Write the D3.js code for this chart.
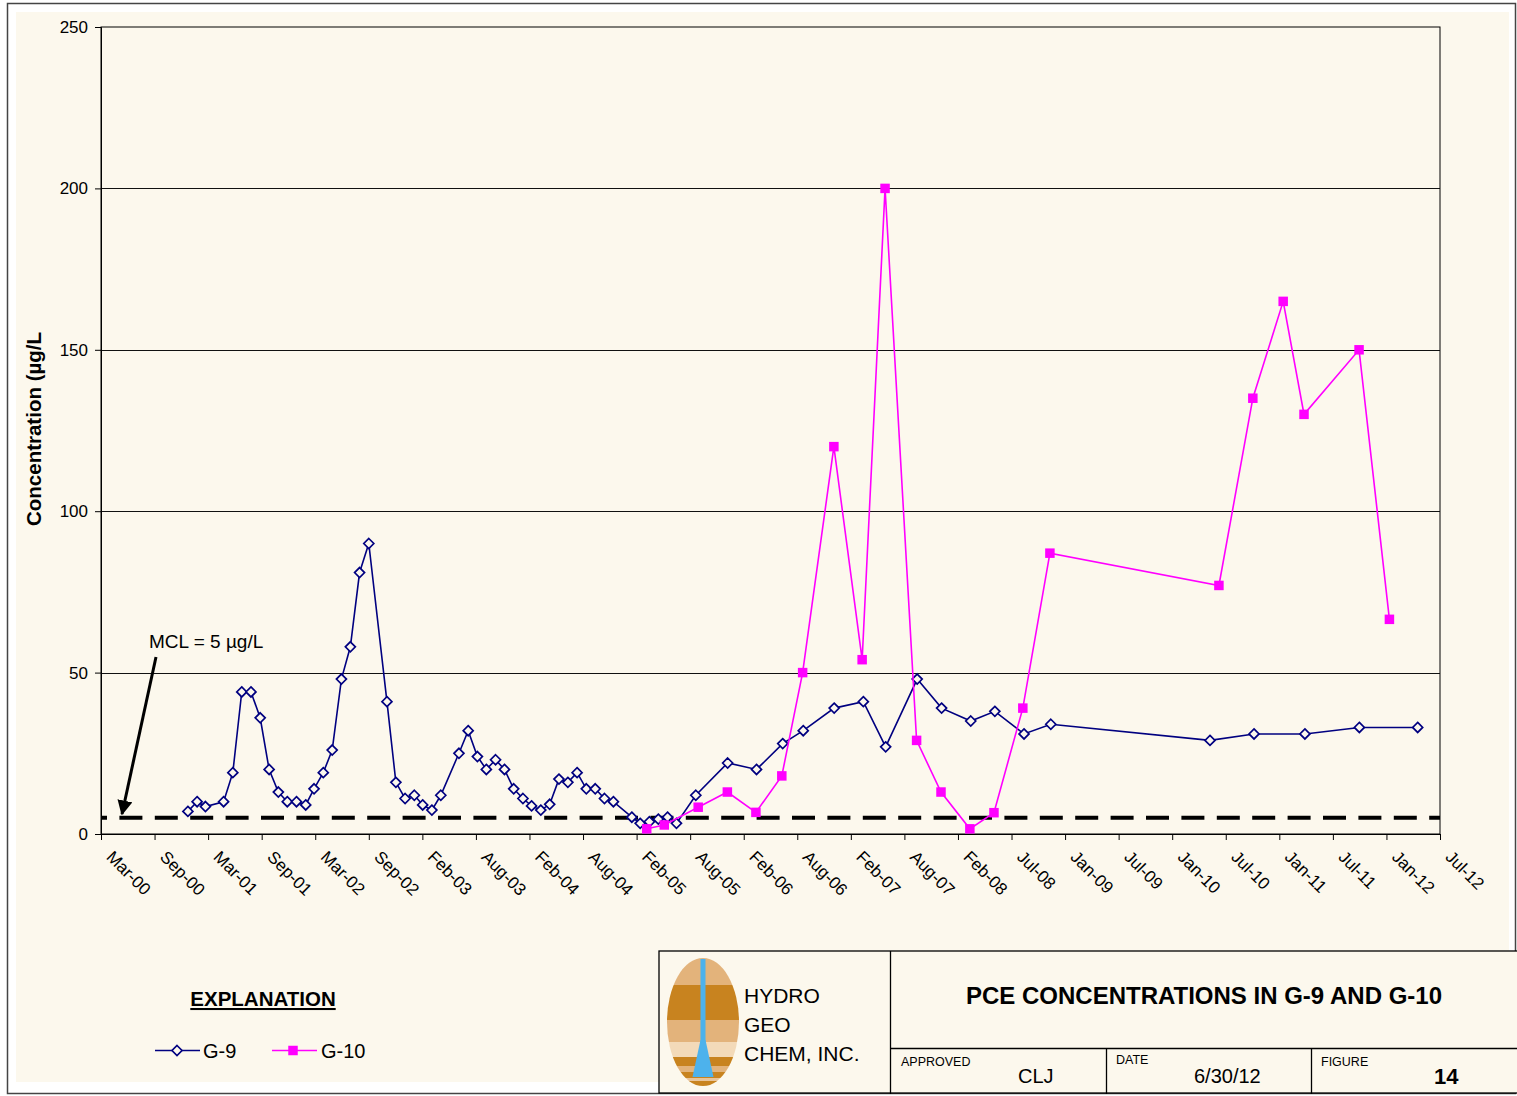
<!DOCTYPE html>
<html>
<head>
<meta charset="utf-8">
<script src="https://cdn.jsdelivr.net/npm/d3@7"></script>
<style>
  body { margin: 0; background: #fff; }
  svg { display: block; }
  text { font-family: Arial, "Liberation Sans", sans-serif; fill: #000; }
</style>
</head>
<body>
<div id="chart"></div>
<script>
// G-9 sampling dates and PCE values (ug/L)
const g9Dates = [
  "2001-01-01","2001-02-01","2001-03-01","2001-05-01","2001-06-01","2001-07-01","2001-08-01",
  "2001-09-01","2001-10-01","2001-11-01","2001-12-01","2002-01-01","2002-02-01","2002-03-01",
  "2002-04-01","2002-05-01","2002-06-01","2002-07-01","2002-08-01","2002-09-01","2002-11-01",
  "2002-12-01","2003-01-01","2003-02-01","2003-03-01","2003-04-01","2003-05-01","2003-07-01",
  "2003-08-01","2003-09-01","2003-10-01","2003-11-01","2003-12-01","2004-01-01","2004-02-01",
  "2004-03-01","2004-04-01","2004-05-01","2004-06-01","2004-07-01","2004-08-01","2004-09-01",
  "2004-10-01","2004-11-01","2004-12-01","2005-02-01","2005-03-01","2005-04-01","2005-05-01",
  "2005-06-01","2005-07-01","2005-09-04","2005-12-20","2006-03-27","2006-06-23","2006-08-31",
  "2006-12-13","2007-03-21","2007-06-04","2007-09-18","2007-12-09","2008-03-16","2008-06-05",
  "2008-09-11","2008-12-10","2010-05-29","2010-10-24","2011-04-13","2011-10-13","2012-04-26"
];
const g9Values = [
  7, 10, 8.5, 10, 19, 44, 44,
  36, 20, 13, 10, 10, 9, 14,
  19, 26, 48, 58, 81, 90, 41,
  16, 11, 12, 9, 7.4, 12, 25,
  32, 24, 20, 23, 20, 14, 11,
  8.7, 7.4, 9.2, 17, 16, 19, 14,
  14, 11, 10, 5.2, 3.3, 3.8, 4.6,
  5.2, 3.3, 12, 22, 20, 28, 32,
  39, 41, 27, 48, 39, 35, 38,
  31, 34, 29, 31, 31, 33, 33
];

// G-10 sampling dates and PCE values (ug/L)
const g10Dates = [
  "2005-03-23","2005-05-21","2005-09-12","2005-12-19","2006-03-25","2006-06-20","2006-08-29",
  "2006-12-12","2007-03-17","2007-06-02","2007-09-16","2007-12-07","2008-03-13","2008-06-02",
  "2008-09-07","2008-12-07","2010-06-28","2010-10-20","2011-01-30","2011-04-10","2011-10-12",
  "2012-01-22"
];
const g10Values = [
  1.6, 2.8, 8.3, 13, 6.7, 18, 50,
  120, 54, 200, 29, 13, 1.6, 6.6,
  39, 87, 77, 135, 165, 130, 150,
  66.5
];

const mclValue = 5;
const yTicks = [0, 50, 100, 150, 200, 250];
const xTickLabels = [
  "Mar-00","Sep-00","Mar-01","Sep-01","Mar-02","Sep-02","Feb-03","Aug-03","Feb-04","Aug-04",
  "Feb-05","Aug-05","Feb-06","Aug-06","Feb-07","Aug-07","Feb-08","Jul-08","Jan-09","Jul-09",
  "Jan-10","Jul-10","Jan-11","Jul-11","Jan-12","Jul-12"
];
const axisStart = "2000-03-15";
const tickStepDays = 180;

const parse = d3.utcParse("%Y-%m-%d");
const cream = "#fcf8ed";
const navy = "#000080";
const magenta = "#ff00ff";

const W = 1517, H = 1096;
const plotL = 101, plotR = 1440, plotT = 27, plotB = 834;

const svg = d3.select("#chart").append("svg")
    .attr("width", W)
    .attr("height", H);

// page frame
svg.append("rect").attr("x", 7.5).attr("y", 3.5).attr("width", 1508).attr("height", 1090)
    .attr("fill", "#fff").attr("stroke", "#444").attr("stroke-width", 1.5);
svg.append("rect").attr("x", 16).attr("y", 12).attr("width", 1493).attr("height", 1070)
    .attr("fill", cream);

const start = parse(axisStart);
const tickDates = xTickLabels.map((_, i) => d3.utcDay.offset(start, i * tickStepDays));

const x = d3.scaleUtc()
    .domain([tickDates[0], tickDates[tickDates.length - 1]])
    .range([plotL, plotR]);

const y = d3.scaleLinear()
    .domain([0, 250])
    .range([plotB, plotT]);

// plot area
svg.append("rect")
    .attr("x", plotL).attr("y", plotT)
    .attr("width", plotR - plotL).attr("height", plotB - plotT)
    .attr("fill", cream).attr("stroke", "#000").attr("stroke-width", 1);

svg.append("g").selectAll("line")
    .data(yTicks.filter(v => v > 0 && v < 250))
    .join("line")
    .attr("x1", plotL).attr("x2", plotR)
    .attr("y1", d => Math.round(y(d)) + 0.5).attr("y2", d => Math.round(y(d)) + 0.5)
    .attr("stroke", "#111").attr("stroke-width", 1);

// axes
const xAxis = svg.append("g")
    .attr("transform", `translate(0,${plotB})`)
    .call(d3.axisBottom(x).tickValues(tickDates).tickSize(6)
        .tickFormat((d, i) => xTickLabels[i]));
xAxis.selectAll("text")
    .attr("x", null).attr("y", null).attr("dy", null)
    .attr("transform", "translate(4,24) rotate(45)")
    .style("text-anchor", "start")
    .style("font-size", "17px")
    .style("font-family", "Arial, 'Liberation Sans', sans-serif");

const yAxis = svg.append("g")
    .attr("transform", `translate(${plotL},0)`)
    .call(d3.axisLeft(y).tickValues(yTicks).tickSize(6).tickPadding(7));
yAxis.selectAll("text")
    .style("font-size", "17px")
    .style("font-family", "Arial, 'Liberation Sans', sans-serif");

svg.selectAll(".domain, .tick line").attr("stroke", "#000");

svg.append("text")
    .attr("transform", "translate(41,429) rotate(-90)")
    .attr("text-anchor", "middle")
    .style("font-size", "20.5px")
    .style("font-weight", "bold")
    .text("Concentration (µg/L");

// MCL line
svg.append("line")
    .attr("x1", plotL).attr("x2", plotR)
    .attr("y1", y(mclValue)).attr("y2", y(mclValue))
    .attr("stroke", "#000").attr("stroke-width", 4)
    .attr("stroke-dasharray", "23 12.4").attr("stroke-dashoffset", 17);

svg.append("defs").append("marker")
    .attr("id", "arrow").attr("viewBox", "0 0 10 10")
    .attr("refX", 9).attr("refY", 5)
    .attr("markerWidth", 5).attr("markerHeight", 5)
    .attr("orient", "auto")
  .append("path").attr("d", "M0,0L10,5L0,10Z").attr("fill", "#000");

svg.append("line")
    .attr("x1", 156).attr("y1", 657).attr("x2", 122).attr("y2", 814)
    .attr("stroke", "#000").attr("stroke-width", 3)
    .attr("marker-end", "url(#arrow)");

svg.append("text").attr("x", 149).attr("y", 648)
    .style("font-size", "19px").text("MCL = 5 µg/L");

// series
const g9 = g9Dates.map((d, i) => ({ date: parse(d), value: g9Values[i] }));
const g10 = g10Dates.map((d, i) => ({ date: parse(d), value: g10Values[i] }));

const line = d3.line().x(d => x(d.date)).y(d => y(d.value));
const diamond = "M0,-5L5,0L0,5L-5,0Z";

svg.append("path").datum(g9)
    .attr("d", line).attr("fill", "none")
    .attr("stroke", navy).attr("stroke-width", 1.6);
svg.append("g").selectAll("path")
    .data(g9).join("path")
    .attr("transform", d => `translate(${x(d.date)},${y(d.value)})`)
    .attr("d", diamond)
    .attr("fill", cream).attr("stroke", navy).attr("stroke-width", 1.7);

svg.append("path").datum(g10)
    .attr("d", line).attr("fill", "none")
    .attr("stroke", magenta).attr("stroke-width", 1.6);
svg.append("g").selectAll("rect")
    .data(g10).join("rect")
    .attr("x", d => x(d.date) - 4.75).attr("y", d => y(d.value) - 4.75)
    .attr("width", 9.5).attr("height", 9.5)
    .attr("fill", magenta);

// legend
svg.append("text").attr("x", 263).attr("y", 1006)
    .attr("text-anchor", "middle")
    .style("font-size", "20.5px").style("font-weight", "bold")
    .style("text-decoration", "underline")
    .text("EXPLANATION");

const lg = svg.append("g");
lg.append("line").attr("x1", 155).attr("x2", 200).attr("y1", 1050.5).attr("y2", 1050.5)
    .attr("stroke", navy).attr("stroke-width", 1.6);
lg.append("path").attr("transform", "translate(177,1050.5)").attr("d", diamond)
    .attr("fill", cream).attr("stroke", navy).attr("stroke-width", 1.7);
lg.append("text").attr("x", 203).attr("y", 1058).style("font-size", "20px").text("G-9");
lg.append("line").attr("x1", 272).attr("x2", 317).attr("y1", 1050.5).attr("y2", 1050.5)
    .attr("stroke", magenta).attr("stroke-width", 1.6);
lg.append("rect").attr("x", 288.25).attr("y", 1045.75).attr("width", 9.5).attr("height", 9.5)
    .attr("fill", magenta);
lg.append("text").attr("x", 321).attr("y", 1058).style("font-size", "20px").text("G-10");

// title block
const tb = svg.append("g").attr("fill", "none").attr("stroke", "#000").attr("stroke-width", 1.3);
tb.append("rect").attr("x", 659).attr("y", 951).attr("width", 880).attr("height", 142)
    .attr("fill", cream);
tb.append("line").attr("x1", 890.5).attr("x2", 890.5).attr("y1", 951).attr("y2", 1094);
tb.append("line").attr("x1", 890.5).attr("x2", 1517).attr("y1", 1048.5).attr("y2", 1048.5);
tb.append("line").attr("x1", 1106.5).attr("x2", 1106.5).attr("y1", 1048.5).attr("y2", 1094);
tb.append("line").attr("x1", 1311.5).attr("x2", 1311.5).attr("y1", 1048.5).attr("y2", 1094);

// logo
svg.append("clipPath").attr("id", "egg")
  .append("ellipse").attr("cx", 703).attr("cy", 1022).attr("rx", 36).attr("ry", 64);
const logo = svg.append("g").attr("clip-path", "url(#egg)");
const stripes = [
  [958, 985, "#e3b37b"], [985, 1020, "#c8831f"], [1020, 1042, "#e3b37b"],
  [1042, 1057, "#f3dab9"], [1057, 1066, "#c8831f"], [1066, 1072, "#e3b37b"],
  [1072, 1078, "#c8831f"], [1078, 1081, "#e8c49a"], [1081, 1087, "#c8831f"]
];
logo.selectAll("rect").data(stripes).join("rect")
    .attr("x", 666).attr("width", 74)
    .attr("y", d => d[0]).attr("height", d => d[1] - d[0])
    .attr("fill", d => d[2]);
svg.append("rect").attr("x", 700.5).attr("y", 959).attr("width", 5).attr("height", 88)
    .attr("fill", "#4db2ec");
svg.append("path").attr("d", "M700.5,1040L705.5,1040L713.5,1077L692.5,1077Z")
    .attr("fill", "#4db2ec");

const co = svg.append("g").style("font-size", "21px");
co.append("text").attr("x", 744).attr("y", 1003).text("HYDRO");
co.append("text").attr("x", 744).attr("y", 1032).text("GEO");
co.append("text").attr("x", 744).attr("y", 1061).text("CHEM, INC.");

svg.append("text").attr("x", 1204).attr("y", 1004)
    .attr("text-anchor", "middle")
    .style("font-size", "24px").style("font-weight", "bold")
    .text("PCE CONCENTRATIONS IN G-9 AND G-10");

const small = [["APPROVED", 901, 1066], ["DATE", 1116, 1064], ["FIGURE", 1321, 1066]];
svg.append("g").selectAll("text").data(small).join("text")
    .attr("x", d => d[1]).attr("y", d => d[2])
    .style("font-size", "12.5px").text(d => d[0]);

svg.append("text").attr("x", 1018).attr("y", 1083).style("font-size", "20px").text("CLJ");
svg.append("text").attr("x", 1194).attr("y", 1083).style("font-size", "20px").text("6/30/12");
svg.append("text").attr("x", 1434).attr("y", 1084)
    .style("font-size", "22px").style("font-weight", "bold").text("14");
</script>
</body>
</html>
